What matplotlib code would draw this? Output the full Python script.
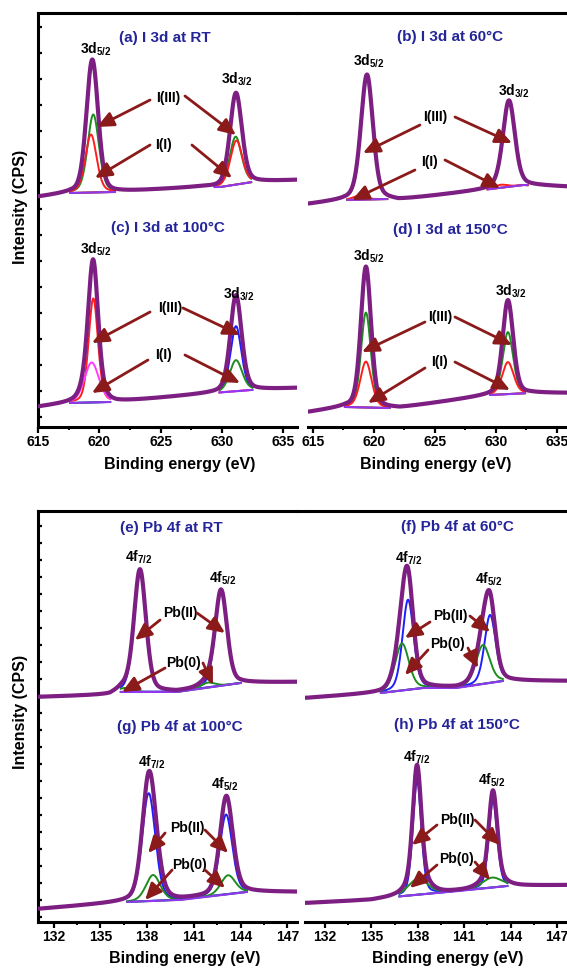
import numpy as np
import matplotlib
matplotlib.use('Agg')
import matplotlib.pyplot as plt
from matplotlib.lines import Line2D

plt.rcParams['font.family'] = ['Liberation Sans', 'DejaVu Sans']
plt.rcParams['font.weight'] = 'bold'
plt.rcParams['mathtext.fontset'] = 'custom'
plt.rcParams['mathtext.rm'] = 'Liberation Sans:bold'
plt.rcParams['mathtext.it'] = 'Liberation Sans:bold'
plt.rcParams['mathtext.bf'] = 'Liberation Sans:bold'

# ------------------------------------------------------------------ data
# I 3d panels (binding energy eV, intensity in arbitrary offset units)
# peaks: centre (eV), height, FWHM (eV)
a_bg_E = [615.0, 617.6, 621.3, 628.2, 629.9, 632.5, 636.2]
a_bg_I = [230, 234, 235, 240, 240, 245, 247]
a_pk_E = [619.51, 619.32, 631.12, 631.18]
a_pk_H = [78, 58, 48, 44]
a_pk_W = [1.1, 1.1, 1.15, 1.15]

b_bg_E = [614.7, 617.5, 621.0, 622.0, 628.9, 632.2, 636.5]
b_bg_I = [223, 227, 228, 227, 237, 242, 240]
b_pk_E = [619.43, 618.8, 631.07, 630.4]
b_pk_H = [123, 4, 85, 3]
b_pk_W = [1.15, 1.2, 1.15, 1.2]

c_bg_E = [615.0, 617.6, 620.9, 621.4, 629.3, 632.3, 636.2]
c_bg_I = [20, 24, 25, 25, 34, 37, 39]
c_pk_E = [619.51, 619.38, 631.15, 631.15]
c_pk_H = [104, 40, 65, 31]
c_pk_W = [0.9, 1.4, 1.05, 1.2]

d_bg_E = [614.7, 617.6, 620.7, 622.1, 629.5, 632.8, 636.5]
d_bg_I = [15, 20, 19, 19, 32, 34, 34]
d_pk_E = [619.34, 619.34, 630.98, 630.98]
d_pk_H = [95, 46, 62, 32]
d_pk_W = [0.95, 1.1, 1.0, 1.1]

# Pb 4f panels
e_bg_E = [131.0, 135.6, 136.3, 139.9, 144.0, 147.7]
e_bg_I = [229, 231, 234, 234, 243, 244]
e_pk_E = [137.54, 136.58, 142.74, 141.9]
e_pk_H = [122, 4, 95, 5]
e_pk_W = [0.9, 1.1, 0.9, 1.1]

f_bg_E = [130.8, 135.6, 138.3, 140.5, 143.5, 148.2]
f_bg_I = [228, 233, 238, 238, 245, 245]
f_pk_E = [137.37, 136.98, 142.67, 142.21]
f_pk_H = [90, 47, 68, 39]
f_pk_W = [0.85, 1.05, 0.85, 1.05]

g_bg_E = [131.0, 136.7, 140.1, 144.4, 147.7]
g_bg_I = [17, 24, 26, 34, 34]
g_pk_E = [138.1, 138.38, 143.06, 143.19]
g_pk_H = [108, 26, 80, 19]
g_pk_W = [1.0, 1.1, 0.95, 1.1]

h_bg_E = [130.8, 135.0, 136.4, 140.0, 143.8, 148.2]
h_bg_I = [23, 26, 29, 34, 40, 41]
h_pk_E = [137.95, 138.01, 142.86, 142.8]
h_pk_H = [114, 16, 87, 10]
h_pk_W = [0.65, 1.5, 0.65, 1.5]

titles = ['(a) I 3d at RT', '(b) I 3d at 60°C', '(c) I 3d at 100°C', '(d) I 3d at 150°C',
          '(e) Pb 4f at RT', '(f) Pb 4f at 60°C', '(g) Pb 4f at 100°C', '(h) Pb 4f at 150°C']
i_ticks = [615, 620, 625, 630, 635]
pb_ticks = [132, 135, 138, 141, 144, 147]

# ------------------------------------------------------------------ styles
ENV = '#7D1E82'
BASE = '#9038F0'
GREEN = '#1E8C1E'
RED = '#FF1E1E'
BLUE = '#1E1EFF'
MAG = '#FF3CFF'
ARROW = '#8B1A1A'
TITLE = '#25259A'
ETA = 0.3  # Lorentzian fraction of the pseudo-Voigt line shape

W, H = 567, 968
fig = plt.figure(figsize=(W / 100, H / 100), dpi=100)


def px_axes(x0, x1, ytop, ybot):
    return fig.add_axes([x0 / W, 1 - ybot / H, (x1 - x0) / W, (ybot - ytop) / H])


ax_tl = px_axes(38, 297, 13, 427)
ax_tr = px_axes(308, 575, 13, 427)
ax_bl = px_axes(38, 297, 511, 922)
ax_br = px_axes(305, 575, 511, 922)

# short joins of the top frame line between the two columns
for (x0, x1, y) in ((297, 306, 13), (297, 303, 511)):
    fig.add_artist(Line2D([x0 / W, x1 / W], [1 - y / H, 1 - y / H], color='black',
                          lw=2.2, transform=fig.transFigure))

ax_tl.set_xlim(615.0, 636.13)
ax_tr.set_xlim(614.59, 636.48)
ax_bl.set_xlim(131.0, 147.61)
ax_br.set_xlim(130.71, 148.16)
for ax in (ax_tl, ax_tr):
    ax.set_ylim(0, 414)
for ax in (ax_bl, ax_br):
    ax.set_ylim(4, 415)

for ax, left in ((ax_tl, True), (ax_tr, False), (ax_bl, True), (ax_br, False)):
    for s in ax.spines.values():
        s.set_linewidth(2.2)
    ax.spines['right'].set_visible(False)
    ax.spines['left'].set_visible(left)
    ax.tick_params(axis='x', direction='out', length=4, width=1.6, labelsize=10, pad=2)
    ax.tick_params(axis='x', which='minor', direction='out', length=2.5, width=1.4)
    if left:
        ax.tick_params(axis='y', direction='in', length=3, width=1.6, labelleft=False)
    else:
        ax.tick_params(axis='y', left=False, labelleft=False)

ax_tl.set_xticks(i_ticks)
ax_tr.set_xticks(i_ticks)
ax_tl.set_xticks([617.5, 622.5, 627.5, 632.5], minor=True)
ax_tr.set_xticks([617.5, 622.5, 627.5, 632.5], minor=True)
ax_bl.set_xticks(pb_ticks)
ax_br.set_xticks(pb_ticks)
ax_bl.set_xticks([133.5, 136.5, 139.5, 142.5, 145.5], minor=True)
ax_br.set_xticks([133.5, 136.5, 139.5, 142.5, 145.5], minor=True)
ax_tl.set_yticks(np.arange(10, 414, 26))
ax_bl.set_yticks(np.arange(9, 415, 17))
for ax in (ax_tl, ax_tr, ax_bl, ax_br):
    for lab in ax.get_xticklabels():
        lab.set_fontweight('bold')
        lab.set_fontsize(10)


def line_shape(grid, c, h, fwhm):
    g = np.exp(-4 * np.log(2) * ((grid - c) / fwhm) ** 2)
    lor = 1.0 / (1.0 + 4 * ((grid - c) / fwhm) ** 2)
    return h * ((1 - ETA) * g + ETA * lor)


def draw(ax, bgE, bgI, pkE, pkH, pkW, cols, fits):
    lo_x, hi_x = ax.get_xlim()
    grid = np.linspace(lo_x, hi_x, 1500)
    bg = np.interp(grid, bgE, bgI)
    comps = [line_shape(grid, c, h, w) for c, h, w in zip(pkE, pkH, pkW)]
    env = bg + np.sum(comps, axis=0)
    for lo, hi in fits:
        m = (grid >= lo) & (grid <= hi)
        for comp, col in zip(comps, cols):
            ax.plot(grid[m], bg[m] + comp[m], color=col, lw=1.4, zorder=4)
        ax.plot(grid[m], bg[m], color=BASE, lw=1.5, zorder=4.5, solid_capstyle='round')
    ax.plot(grid, env, color=ENV, lw=3.0, zorder=5, solid_capstyle='round')


def label(ax, title, tpos, peaklabs, species):
    ax.text(tpos[0], tpos[1], title, color=TITLE, fontsize=11, fontweight='bold',
            ha='center', va='center', zorder=7)
    for txt, x, y in peaklabs:
        ax.text(x, y, txt, fontsize=10, ha='center', va='center', zorder=7)
    for txt, x, y, arrows in species:
        ax.text(x, y, txt, fontsize=10, fontweight='bold', ha='center', va='center', zorder=7)
        for x0, y0, x1, y1 in arrows:
            ax.annotate('', xy=(x1, y1), xytext=(x0, y0), zorder=8,
                        arrowprops=dict(arrowstyle='-|>,head_length=1.0,head_width=0.45',
                                        color=ARROW, lw=2.0, shrinkA=0, shrinkB=0,
                                        mutation_scale=10))


d52 = r'$3d_{5/2}$'
d32 = r'$3d_{3/2}$'
f72 = r'$4f_{7/2}$'
f52 = r'$4f_{5/2}$'

# top-left: (a) above, (c) below
draw(ax_tl, a_bg_E, a_bg_I, a_pk_E, a_pk_H, a_pk_W, [GREEN, RED, GREEN, RED],
     [(617.6, 621.3), (629.4, 632.4)])
label(ax_tl, titles[0], (625.36, 389), [(d52, 619.73, 378), (d32, 631.2, 348)],
      [('I(III)', 625.6, 329, [(624.14, 327, 619.81, 300), (626.99, 331, 631.15, 292)]),
       ('I(I)', 625.2, 282, [(624.14, 282, 619.65, 249), (627.56, 282, 630.82, 249)])])
draw(ax_tl, c_bg_E, c_bg_I, c_pk_E, c_pk_H, c_pk_W, [RED, MAG, BLUE, GREEN],
     [(617.6, 620.9), (629.8, 632.5)])
label(ax_tl, titles[2], (625.6, 199), [(d52, 619.73, 178), (d32, 631.4, 133)],
      [('I(III)', 625.77, 119, [(624.14, 115, 619.4, 84), (626.83, 119, 631.48, 92)]),
       ('I(I)', 625.2, 72, [(623.97, 67, 619.4, 34), (626.99, 72, 631.48, 44)])])

# top-right: (b) above, (d) below
draw(ax_tr, b_bg_E, b_bg_I, b_pk_E, b_pk_H, b_pk_W, [GREEN, RED, GREEN, RED],
     [(617.8, 621.1), (629.3, 632.6)])
label(ax_tr, titles[1], (626.23, 390), [(d52, 619.6, 366), (d32, 631.48, 336)],
      [('I(III)', 625.0, 310, [(623.77, 302, 619.1, 274), (626.64, 310, 631.31, 284)]),
       ('I(I)', 624.59, 265, [(623.36, 257, 618.2, 227), (625.82, 267, 630.33, 239)])])
draw(ax_tr, d_bg_E, d_bg_I, d_pk_E, d_pk_H, d_pk_W, [GREEN, RED, GREEN, RED],
     [(617.6, 621.3), (629.5, 632.4)])
label(ax_tr, titles[3], (626.23, 197), [(d52, 619.59, 171), (d32, 631.23, 136)],
      [('I(III)', 625.41, 110, [(624.18, 105, 619.02, 75), (626.64, 110, 631.31, 82)]),
       ('I(I)', 625.41, 65, [(624.18, 59, 619.51, 24), (626.64, 65, 631.15, 37)])])

# bottom-left: (e) above, (g) below
draw(ax_bl, e_bg_E, e_bg_I, e_pk_E, e_pk_H, e_pk_W, [BLUE, GREEN, BLUE, GREEN], [(136.3, 144.0)])
label(ax_bl, titles[4], (139.53, 398), [(f72, 137.48, 369), (f52, 142.87, 348)],
      [('Pb(II)', 140.11, 313, [(138.83, 306, 137.22, 286), (141.2, 313, 142.99, 293)]),
       ('Pb(0)', 140.3, 263, [(139.15, 258, 136.39, 234), (141.58, 263, 142.22, 241)])])
draw(ax_bl, g_bg_E, g_bg_I, g_pk_E, g_pk_H, g_pk_W, [BLUE, GREEN, BLUE, GREEN], [(136.7, 144.4)])
label(ax_bl, titles[6], (140.11, 199), [(f72, 138.31, 164), (f52, 143.0, 142)],
      [('Pb(II)', 140.56, 98, [(139.15, 93, 138.06, 73), (141.71, 96, 143.19, 73)]),
       ('Pb(0)', 140.69, 61, [(139.6, 56, 137.87, 26), (141.71, 56, 142.99, 38)])])

# bottom-right: (f) above, (h) below
draw(ax_br, f_bg_E, f_bg_I, f_pk_E, f_pk_H, f_pk_W, [BLUE, GREEN, BLUE, GREEN], [(135.6, 143.5)])
label(ax_br, titles[5], (140.53, 399), [(f72, 137.43, 368), (f52, 142.6, 347)],
      [('Pb(II)', 140.08, 310, [(138.79, 304, 137.17, 288), (141.37, 310, 142.67, 294)]),
       ('Pb(0)', 139.95, 282, [(138.66, 276, 137.17, 251), (141.24, 278, 141.89, 258)])])
draw(ax_br, h_bg_E, h_bg_I, h_pk_E, h_pk_H, h_pk_W, [BLUE, GREEN, BLUE, GREEN], [(136.8, 143.8)])
label(ax_br, titles[7], (140.53, 201), [(f72, 137.95, 169), (f52, 142.75, 146)],
      [('Pb(II)', 140.53, 106, [(139.24, 101, 137.62, 81), (141.7, 106, 143.31, 81)]),
       ('Pb(0)', 140.53, 67, [(139.24, 61, 137.49, 38), (141.7, 64, 142.67, 46)])])

# axis titles
for (x, y) in ((180, 465), (436, 465), (185, 959), (448, 959)):
    fig.text(x / W, 1 - y / H, 'Binding energy (eV)', fontsize=11.5, fontweight='bold',
             ha='center', va='center')
for y in (207, 712):
    fig.text(21 / W, 1 - y / H, 'Intensity (CPS)', fontsize=11.5, fontweight='bold',
             rotation=90, ha='center', va='center')

fig.savefig('out.png', dpi=100)
